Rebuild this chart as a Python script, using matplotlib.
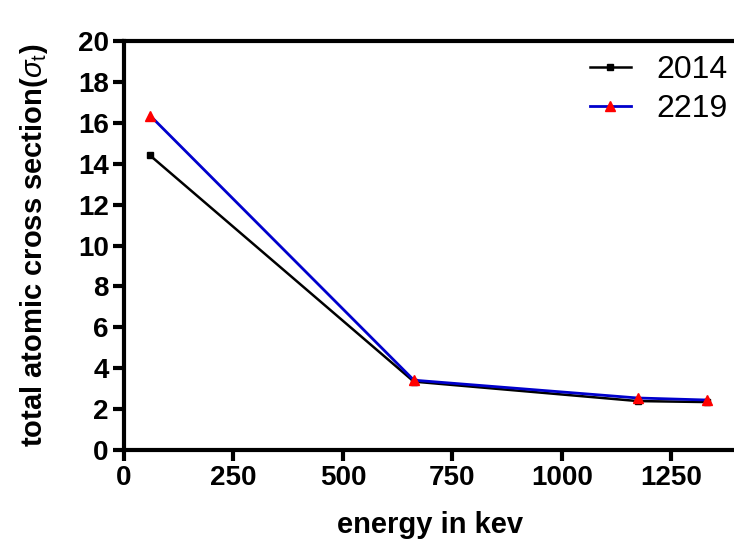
import matplotlib
matplotlib.use("Agg")
import matplotlib.pyplot as plt

plt.rcParams['font.family'] = ['Liberation Sans', 'DejaVu Sans']
plt.rcParams['mathtext.fontset'] = 'custom'
plt.rcParams['mathtext.rm'] = 'Liberation Sans'
plt.rcParams['mathtext.it'] = 'Liberation Sans:italic'

energy = [59.5, 662, 1173, 1332]
series_2014 = [14.4, 3.35, 2.4, 2.35]
series_2219 = [16.35, 3.42, 2.55, 2.45]
xticks = [0, 250, 500, 750, 1000, 1250]
yticks = [0, 2, 4, 6, 8, 10, 12, 14, 16, 18, 20]

fig = plt.figure(figsize=(7.34, 5.45), dpi=100)
ax = fig.add_axes([0.169, 0.174, 0.835, 0.751])

ax.plot(energy, series_2014, color='black', lw=1.8, marker='s', markersize=4,
        markerfacecolor='black', markeredgecolor='black', label='2014', zorder=3)
ax.plot(energy, series_2219, color='#0000cc', lw=2, marker='^', markersize=7,
        markerfacecolor='red', markeredgecolor='red', label='2219', zorder=4)

ax.set_xlim(0, 1400)
ax.set_ylim(0, 20)
ax.set_xticks(xticks)
ax.set_yticks(yticks)
ax.spines['right'].set_visible(False)
for s in ['left', 'bottom', 'top']:
    ax.spines[s].set_linewidth(3)
ax.tick_params(width=3, length=8, labelsize=20, pad=3, top=False)
for lab in ax.get_xticklabels() + ax.get_yticklabels():
    lab.set_fontweight('bold')

ax.set_xlabel('energy in kev', fontsize=21, fontweight='bold', labelpad=14)
ax.set_ylabel(r'total atomic cross section($\sigma_{\rm t}$)', fontsize=21,
              fontweight='bold', labelpad=20)

leg = ax.legend(loc='upper right', frameon=False, fontsize=23,
                handlelength=1.3, handletextpad=0.8, labelspacing=0.3,
                borderaxespad=0.0, bbox_to_anchor=(1.006, 0.997))

fig.savefig('out.png', dpi=100)
